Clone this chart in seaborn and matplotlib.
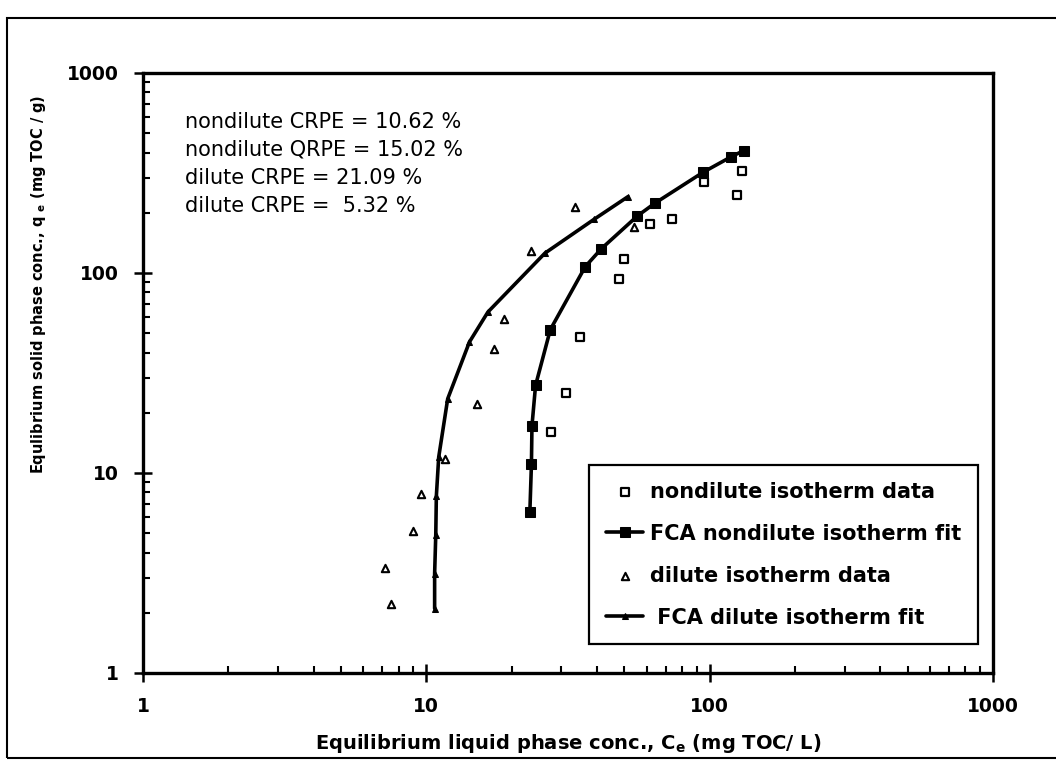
import numpy as np
import pandas as pd
import matplotlib
matplotlib.use("Agg")
import matplotlib.pyplot as plt
import seaborn as sns
from matplotlib.ticker import LogLocator, NullFormatter
from matplotlib.patches import Rectangle

# nondilute isotherm data (open squares)
nd_ce = [27.5, 31.2, 34.8, 47.8, 49.7, 61.5, 73.7, 95.5, 125.3, 130.1]
nd_qe = [16.0, 25.2, 47.9, 93.7, 117.5, 175.8, 186.2, 284, 245.5, 324.8]

# FCA nondilute isotherm fit (filled squares + line)
ndfit_ce = [23.2, 23.5, 23.6, 24.3, 27.4, 36.4, 41.5, 55.6, 64.0, 94.8, 119.3, 131.9]
ndfit_qe = [6.38, 11.1, 17.2, 27.4, 52.1, 107.6, 132.3, 192.8, 223, 318.7, 381.6, 409]

# dilute isotherm data (open triangles)
d_ce = [7.48, 7.13, 8.97, 9.6, 11.6, 15.1, 17.4, 18.8, 23.5, 33.6, 54.1]
d_qe = [2.2, 3.36, 5.13, 7.88, 11.7, 22.0, 41.8, 58.7, 129.3, 213, 169]

# FCA dilute isotherm fit (filled triangles + line)
dfit_ce = [10.7, 10.7, 10.8, 10.85, 11.06, 11.9, 14.2, 16.5, 26.2, 39.1, 51.5]
dfit_qe = [2.1, 3.14, 4.92, 7.65, 12.0, 23.5, 45.2, 63.8, 125.5, 185.5, 240.8]

tick_vals = [1, 10, 100, 1000]
tick_labels = ["1", "10", "100", "1000"]

stats_text = ("nondilute CRPE = 10.62 %\n"
              "nondilute QRPE = 15.02 %\n"
              "dilute CRPE = 21.09 %\n"
              "dilute CRPE =  5.32 %")

sns.set_style("ticks", {"axes.edgecolor": "black", "text.color": "black",
                        "xtick.color": "black", "ytick.color": "black",
                        "axes.labelcolor": "black"})
plt.rcParams["font.family"] = ["DejaVu Sans"]
plt.rcParams["mathtext.fontset"] = "dejavusans"

fig, ax = plt.subplots(figsize=(10.56, 7.65), dpi=100)
ax.set_position([0.1354, 0.1203, 0.8049, 0.7843])

nd_df = pd.DataFrame({"ce": nd_ce, "qe": nd_qe})
ndfit_df = pd.DataFrame({"ce": ndfit_ce, "qe": ndfit_qe})
d_df = pd.DataFrame({"ce": d_ce, "qe": d_qe})
dfit_df = pd.DataFrame({"ce": dfit_ce, "qe": dfit_qe})

sns.scatterplot(data=nd_df, x="ce", y="qe", marker="s", s=28, facecolor="white",
                edgecolor="black", linewidth=1.6, label="nondilute isotherm data",
                ax=ax, zorder=3)
sns.lineplot(data=ndfit_df, x="ce", y="qe", sort=False, estimator=None, color="black",
             linewidth=2.6, marker="s", markersize=7, markeredgecolor="black",
             label="FCA nondilute isotherm fit", ax=ax, zorder=4)
sns.scatterplot(data=d_df, x="ce", y="qe", marker="^", s=28, facecolor="white",
                edgecolor="black", linewidth=1.5, label="dilute isotherm data",
                ax=ax, zorder=3)
sns.lineplot(data=dfit_df, x="ce", y="qe", sort=False, estimator=None, color="black",
             linewidth=2.6, marker="^", markersize=5, markeredgecolor="black",
             label=" FCA dilute isotherm fit", ax=ax, zorder=4)

ax.set_xscale("log")
ax.set_yscale("log")
ax.set_xlim(1, 1000)
ax.set_ylim(1, 1000)
ax.set_xticks(tick_vals)
ax.set_xticklabels(tick_labels)
ax.set_yticks(tick_vals)
ax.set_yticklabels(tick_labels)
for axis in (ax.xaxis, ax.yaxis):
    axis.set_minor_locator(LogLocator(base=10, subs=np.arange(2, 10)))
    axis.set_minor_formatter(NullFormatter())
ax.tick_params(which="major", direction="inout", length=13, width=1.8, pad=11,
               labelsize=13.5)
ax.tick_params(which="minor", direction="in", length=5, width=1.5)
ax.tick_params(top=False, right=False, which="both")
for lab in ax.get_xticklabels() + ax.get_yticklabels():
    lab.set_fontweight("bold")
for sp in ax.spines.values():
    sp.set_linewidth(2.4)
    sp.set_color("black")

ax.set_xlabel(r"Equilibrium liquid phase conc., C$_{\mathbf{e}}$ (mg TOC/ L)",
              fontsize=14, fontweight="bold")
ax.set_ylabel(r"Equlibrium solid phase conc., q $_{\mathbf{e}}$ (mg TOC / g)",
              fontsize=10.5, fontweight="bold")
ax.xaxis.set_label_coords(0.5, -0.098)
ax.yaxis.set_label_coords(-0.112, 0.647)

ax.text(0.05, 0.935, stats_text, transform=ax.transAxes, va="top", ha="left",
        fontsize=15, linespacing=1.5)

handles, labels = ax.get_legend_handles_labels()
order = ["nondilute isotherm data", "FCA nondilute isotherm fit",
         "dilute isotherm data", " FCA dilute isotherm fit"]
hmap = dict(zip(labels, handles))
leg = ax.legend([hmap[k] for k in order], order, loc="lower right",
                bbox_to_anchor=(0.982, 0.048), borderaxespad=0, frameon=True,
                fancybox=False, edgecolor="black", framealpha=1,
                prop={"weight": "bold", "size": 15}, handlelength=1.8,
                handletextpad=0.3, labelspacing=1.05, borderpad=0.8)
leg.get_frame().set_linewidth(1.6)

fig.add_artist(Rectangle((0.0066, 0.009), 1.1, 0.968, transform=fig.transFigure,
                         fill=False, linewidth=1.5, edgecolor="black"))

fig.savefig("out.png", dpi=100, facecolor="white")
